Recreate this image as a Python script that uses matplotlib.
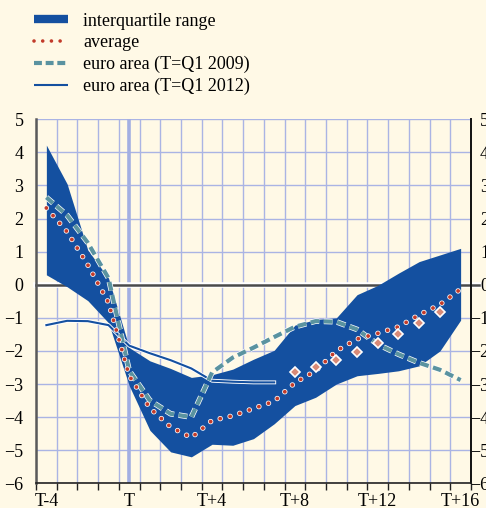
import numpy as np
import matplotlib
matplotlib.use('Agg')
import matplotlib.pyplot as plt
import matplotlib.patheffects as pe
from matplotlib.lines import Line2D

# datos (trimestres T-4 ... T+16)
quarters = list(range(-4, 17))
iqr_upper = [4.22, 3.05, 1.05, 0.2, -1.9, -2.3, -2.53, -2.8, -2.72, -2.55, -2.25,
             -1.98, -1.22, -1.05, -1.0, -0.3, -0.02, 0.35, 0.7, 0.9, 1.1]
iqr_lower = [0.3, -0.06, -0.48, -1.15, -3.05, -4.4, -5.05, -5.2, -4.82, -4.85, -4.65,
             -4.2, -3.65, -3.4, -3.0, -2.75, -2.68, -2.6, -2.45, -2.0, -1.07]
average = [2.32, 1.6, 0.6, -0.54, -2.75, -3.73, -4.3, -4.62, -4.1, -3.96, -3.74,
           -3.52, -2.96, -2.6, -2.0, -1.64, -1.47, -1.27, -0.91, -0.6, -0.13]
ea_2009 = [2.64, 2.1, 1.27, 0.2, -2.6, -3.5, -3.9, -4.0, -2.65, -2.2, -1.9,
           -1.58, -1.27, -1.1, -1.12, -1.35, -1.8, -2.1, -2.36, -2.57, -2.88]
q_2012 = list(range(-4, 8))
ea_2012 = [-1.22, -1.09, -1.1, -1.22, -1.84, -2.07, -2.28, -2.53, -2.9, -2.93, -2.95, -2.95]
q_diam = list(range(8, 16))
diam = [-2.65, -2.48, -2.26, -2.03, -1.76, -1.48, -1.17, -0.83]

tick_pos = [-4, 0, 4, 8, 12, 16]
tick_lab = ['T-4', 'T', 'T+4', 'T+8', 'T+12', 'T+16']

bg = '#fff9e6'
blue = '#1450a0'
teal = '#5a93a0'
red = '#c23b2a'
gridc = '#aab4e4'

plt.rcParams['font.family'] = ['Liberation Serif', 'DejaVu Serif']

fig = plt.figure(figsize=(4.86, 5.08), dpi=100, facecolor=bg)
ax = fig.add_axes([0.0741, 0.0486, 0.8950, 0.7166], facecolor=bg)

ax.set_xlim(-4.5, 16.5)
ax.set_ylim(-6, 5)

# rejilla y ejes
ax.set_xticks(np.arange(-4.5, 16.6, 1))
ax.set_xticklabels([])
ax.set_xticks(tick_pos, minor=True)
ax.set_xticklabels(tick_lab, minor=True, fontsize=13)
ax.tick_params(axis='x', which='major', direction='out', length=5, width=1, color='#222222')
ax.tick_params(axis='x', which='minor', length=0, pad=7)
ax.set_yticks(range(-6, 6))
ax.tick_params(axis='y', length=0, pad=9, labelsize=13)
ax.grid(True, which='major', color=gridc, linewidth=1)
ax.set_axisbelow(True)

ax.axvline(0, color='#a3afe2', linewidth=2.6, zorder=1)
ax.plot([-4.5, 16.9], [0, 0], color='#4a4a4a', linewidth=1.8, zorder=1.5, clip_on=False,
        path_effects=[pe.Stroke(linewidth=4, foreground='white'), pe.Normal()])

ax.spines['top'].set_visible(False)
ax.spines['left'].set_color('#5a5a5a')
ax.spines['left'].set_linewidth(1.8)
ax.spines['right'].set_color('#111111')
ax.spines['right'].set_linewidth(1.4)
ax.spines['bottom'].set_color('#222222')
ax.spines['bottom'].set_linewidth(1.2)

# banda intercuartil
ax.fill_between(quarters, iqr_lower, iqr_upper, color=blue, linewidth=0, zorder=2)

ax.plot(q_2012, ea_2012, color=blue, linewidth=1.5, zorder=3,
        path_effects=[pe.Stroke(linewidth=2.8, foreground='white'), pe.Normal()])
ax.plot(quarters, ea_2009, color=teal, linewidth=3.0, linestyle=(0, (2.1, 1.1)), zorder=4,
        path_effects=[pe.Stroke(linewidth=4.0, foreground='white'), pe.Normal()])
ax.plot(quarters, average, color=red, linewidth=2.8, linestyle=(0, (0.01, 2.6)),
        dash_capstyle='round', zorder=5,
        path_effects=[pe.Stroke(linewidth=3.9, foreground='white'), pe.Normal()])
ax.plot(q_diam, diam, linestyle='none', marker='D', markersize=5.5, markerfacecolor='#d98a77',
        markeredgecolor='white', markeredgewidth=1.2, zorder=6)

# eje derecho (etiquetas cortadas por el borde)
ax2 = ax.twinx()
ax2.set_ylim(-6, 5)
ax2.set_yticks(range(-6, 6))
ax2.tick_params(axis='y', length=0, pad=13, labelsize=13)
for t in ax2.get_yticklabels():
    t.set_horizontalalignment('right')
for s in ['top', 'left', 'bottom', 'right']:
    ax2.spines[s].set_visible(False)

# leyenda
handles = [
    Line2D([], [], color=blue, linewidth=6.0, solid_capstyle='butt'),
    Line2D([], [], color=red, linewidth=2.6, linestyle=(0, (0.01, 2.4)), dash_capstyle='round'),
    Line2D([], [], color=teal, linewidth=3.0, linestyle=(0, (1.9, 0.9)), dash_capstyle='butt'),
    Line2D([], [], color=blue, linewidth=1.5, solid_capstyle='butt'),
]
labels = ['interquartile range', 'average', 'euro area (T=Q1 2009)', 'euro area (T=Q1 2012)']
fig.legend(handles, labels, loc='upper left', bbox_to_anchor=(0.0628, 0.982), frameon=False,
           fontsize=13, handlelength=1.9, handletextpad=0.83, labelspacing=0.26,
           borderpad=0.2, borderaxespad=0)

plt.savefig('out.png', dpi=100, facecolor=bg)
